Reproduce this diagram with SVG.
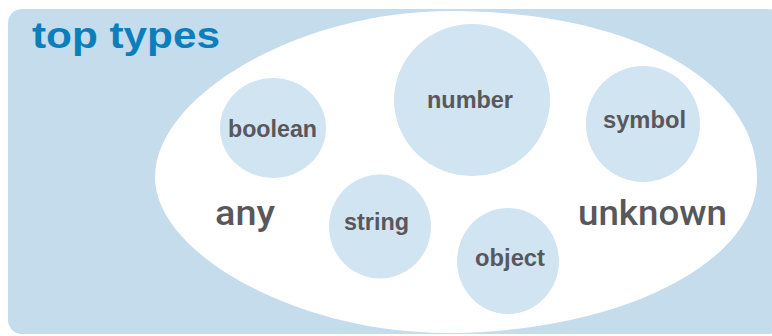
<svg xmlns="http://www.w3.org/2000/svg" width="772" height="336" viewBox="0 0 772 336">
  <style>
    .panel { fill: #c4dcec; }
    .set { fill: #ffffff; }
    .bubble { fill: #d1e4f2; }
    .title { font-family: "Liberation Sans", Arial, sans-serif; font-weight: bold; font-size: 37px; fill: #0b7fbb; }
    .label { font-family: "Liberation Sans", Arial, sans-serif; font-weight: bold; font-size: 23px; fill: #58585c; text-anchor: middle; }
    .big { font-family: Roboto, "Liberation Sans", Arial, sans-serif; font-weight: 500; font-size: 35px; fill: #58585c; text-anchor: middle; }
  </style>

  <!-- background panel -->
  <rect class="panel" x="8" y="9" width="774" height="325" rx="14" ry="14"/>
  <text class="title" x="32" y="48" textLength="188" lengthAdjust="spacingAndGlyphs">top types</text>

  <!-- the set of all values -->
  <g id="top-set">
    <path class="set" d="M155,177 C155,95 300,11 450,11 C630,11 757,80 757,178 C757,264 617,333 445,333 C300,333 155,255 155,177 Z"/>
    <text class="big" x="245" y="225" textLength="60" lengthAdjust="spacingAndGlyphs">any</text>
    <text class="big" x="652.5" y="225" textLength="149" lengthAdjust="spacingAndGlyphs">unknown</text>
  </g>

  <g id="boolean">
    <ellipse class="bubble" cx="273" cy="128" rx="53" ry="50"/>
    <text class="label" x="272.5" y="137" textLength="89" lengthAdjust="spacingAndGlyphs">boolean</text>
  </g>

  <g id="number">
    <ellipse class="bubble" cx="472" cy="100" rx="78" ry="76"/>
    <text class="label" x="470" y="108" textLength="86" lengthAdjust="spacingAndGlyphs">number</text>
  </g>

  <g id="symbol">
    <ellipse class="bubble" cx="643" cy="124" rx="57" ry="58"/>
    <text class="label" x="644.5" y="128" textLength="83" lengthAdjust="spacingAndGlyphs">symbol</text>
  </g>

  <g id="string">
    <ellipse class="bubble" cx="380" cy="226.5" rx="51" ry="52"/>
    <text class="label" x="376.5" y="230" textLength="65" lengthAdjust="spacingAndGlyphs">string</text>
  </g>

  <g id="object">
    <ellipse class="bubble" cx="508" cy="261" rx="51" ry="53"/>
    <text class="label" x="510" y="266" textLength="70" lengthAdjust="spacingAndGlyphs">object</text>
  </g>
</svg>
